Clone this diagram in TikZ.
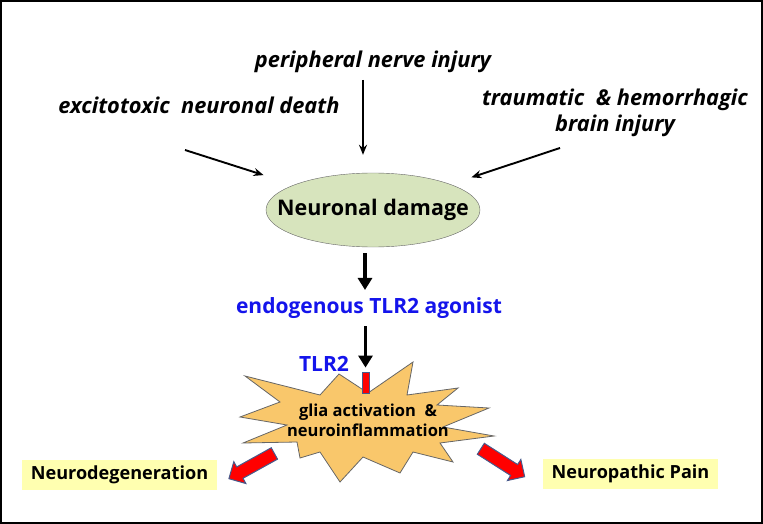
\documentclass[tikz,border=0pt]{standalone}
\usepackage{fontspec}
\setmainfont{Open Sans}
\usetikzlibrary{arrows.meta,shapes.geometric,shapes.arrows}
\definecolor{damagegreen}{RGB}{215,228,189}
\definecolor{staryellow}{RGB}{249,199,107}
\definecolor{labelyellow}{RGB}{255,255,176}
\definecolor{outlineblue}{RGB}{70,90,140}
\definecolor{tlrblue}{RGB}{20,20,235}
\begin{document}
\begin{tikzpicture}[x=1pt,y=-1pt,
  cause/.style={font=\fontsize{21.8}{26}\selectfont\bfseries\itshape,align=center},
  thinarrow/.style={-{Stealth[length=10pt,width=8pt]},line width=1.9pt},
  thickarrow/.style={-{Triangle[length=12pt,width=14pt]},line width=3.8pt},
  outcome/.style={fill=labelyellow,font=\fontsize{18.1}{21}\selectfont\bfseries,minimum height=30pt,inner xsep=9pt},
  blockarrow/.style={single arrow,fill=red,draw=outlineblue,line width=1pt,inner sep=0pt,inner ysep=6pt,
    single arrow head extend=6pt,minimum height=52pt}]
  \useasboundingbox (0,0) rectangle (763,524);
  \draw[line width=2pt] (1,1) rectangle (762,523);

  \node[cause] (peri) at (373,62) {peripheral nerve injury};
  \node[cause] (excito) at (199,105) {excitotoxic\ \ neuronal death};
  \node[cause] (trauma) at (615,113) {traumatic\ \ \& hemorrhagic\\brain injury};
  \node[ellipse,draw=black!60,fill=damagegreen,minimum width=214pt,minimum height=74pt,inner sep=0pt,
    font=\fontsize{21.5}{26}\selectfont\bfseries] (damage) at (373,210) {\makebox[0pt]{Neuronal damage}};
  \coordinate (peritail) at (363,80);
  \coordinate (excitotail) at (185,150);
  \coordinate (traumatail) at (560,148);
  \draw[thinarrow,shorten >=18pt] (peritail) -- (peritail |- damage.north);
  \draw[thinarrow,shorten >=32pt] (excitotail) -- (damage);
  \draw[thinarrow,shorten >=22pt] (traumatail) -- (damage);

  \node[text=tlrblue,font=\fontsize{21}{25}\selectfont\bfseries] (agonist) at (369,308) {endogenous TLR2 agonist};
  \draw[thickarrow,shorten <=6pt,shorten >=4pt] ([xshift=-8pt]damage.south) -- ([xshift=-8pt]damage.south |- agonist.north);

  \filldraw[fill=staryellow,draw=black!60,line width=0.8pt]
    (245,376) -- (320,395) -- (339,374) -- (368,393) -- (413,362) -- (407,395) -- (458,388) -- (437,405)
    -- (489,408) -- (443,427) -- (494,436) -- (440,443) -- (453,462) -- (413,452) -- (400,473) -- (363,457)
    -- (340,482) -- (320,452) -- (300,458) -- (297,442) -- (243,443) -- (287,425) -- (240,417) -- (280,402) -- cycle;
  \node[fill=red,draw=outlineblue,line width=0.8pt,minimum width=7pt,minimum height=21pt,inner sep=0pt] (receptor) at (365.5,382.5) {};
  \node[text=tlrblue,font=\fontsize{21}{25}\selectfont\bfseries] (tlr) at (324,364) {TLR2};
  \draw[thickarrow,shorten <=4pt,shorten >=4pt] (agonist.south -| receptor) -- (receptor.north);
  \node[font=\fontsize{16.5}{20}\selectfont\bfseries,align=center] (glia) at (368,420) {glia activation\ \ \&\\neuroinflammation};

  \node[outcome] (neurodeg) at (119.5,475) {Neurodegeneration};
  \node[outcome] (pain) at (630.5,474) {Neuropathic Pain};
  \node[blockarrow,rotate=209] (leftout) at (254.5,464.5) {};
  \node[blockarrow,rotate=-32.5] (rightout) at (500,461) {};
\end{tikzpicture}
\end{document}
